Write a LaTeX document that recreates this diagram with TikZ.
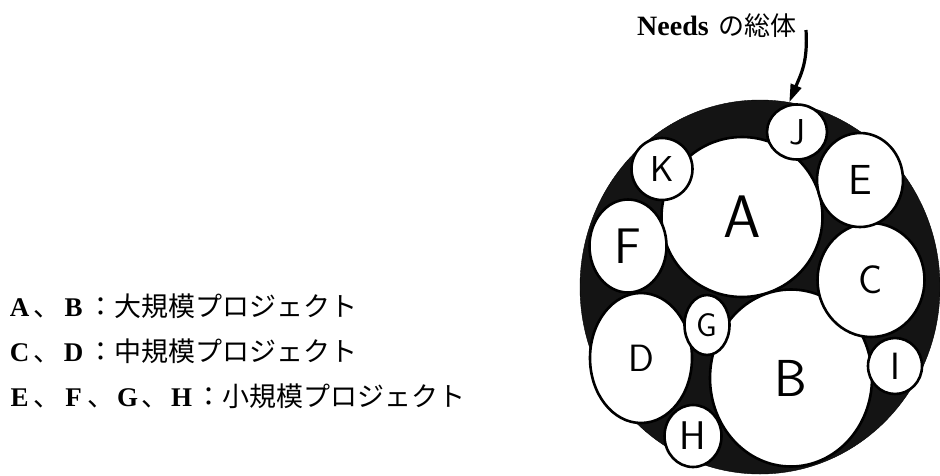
\documentclass[tikz,border=0pt]{standalone}
\usepackage{fontspec}
\setmainfont{Liberation Serif}
\newfontfamily\jp{Noto Sans CJK JP}
\usetikzlibrary{arrows.meta}
\usetikzlibrary{shapes.geometric}
\usetikzlibrary{positioning}
\newcommand{\fwl}[1]{\makebox[1em]{\rmfamily\bfseries #1}}
\tikzset{
	>={Triangle[length=18pt, width=11pt]},
	total/.style={ellipse, draw=black, fill=black!92, inner sep=0pt},
	proj/.style={ellipse, draw=black, line width=2.6pt, fill=white, inner sep=0pt,
		font=\sffamily\fontsize{#1}{#1}\selectfont},
	legend/.style={font=\jp\fontsize{27}{45}\selectfont, align=left, inner sep=0pt},
	caption/.style={font=\bfseries\fontsize{28}{30}\selectfont, inner sep=0pt},
	pointer/.style={black, line width=3.2pt, ->},
}

\begin{document}
\begin{tikzpicture}[x=1pt, y=-1pt]
	\useasboundingbox (0,0) rectangle (940,475);
	
	% Needs as a whole
	\node[total, minimum width=360pt, minimum height=374pt] (total) at (760,287) {};
	
	% large projects
	\node[proj=60, minimum width=161pt, minimum height=160pt] (A) at (742,217) {A};
	\node[proj=52, minimum width=162pt, minimum height=177pt] (B) at (791,378) {B};
	
	% medium projects
	\node[proj=40, minimum width=107pt, minimum height=114pt] (C) at (871,280) {C};
	\node[proj=38, minimum width=102pt, minimum height=130pt] (D) at (641,358) {D};
	
	% small projects
	\node[proj=42, minimum width=86pt, minimum height=94pt] (E) at (860,180) {E};
	\node[proj=50, minimum width=77pt, minimum height=93pt] (F) at (628,246) {F};
	\node[proj=33, minimum width=45pt, minimum height=60pt] (G) at (707,325) {G};
	\node[proj=40, minimum width=57pt, minimum height=62pt] (H) at (693,436) {H};
	\node[proj=38, minimum width=54pt, minimum height=56pt] (I) at (895,366) {I};
	\node[proj=36, minimum width=60pt, minimum height=55pt] (J) at (797,132) {J};
	\node[proj=36, minimum width=61pt, minimum height=62pt] (K) at (662,169) {K};
	
	% caption with arrow
	\node[caption, anchor=base west] (needs) at (637,35) {Needs\hspace{10pt}{\jp\mdseries\fontsize{26}{30}\selectfont の総体}};
	\coordinate (arrowtop) at (806,30);
	\draw[pointer] (arrowtop) .. controls (808,62) and (801,74) .. (total.81);
	
	% legend
	\node[legend, anchor=west] (legend) at (6,351) {%
		\fwl{A}、\fwl{B}：大規模プロジェクト\\
		\fwl{C}、\fwl{D}：中規模プロジェクト\\
		\fwl{E}、\fwl{F}、\fwl{G}、\fwl{H}：小規模プロジェクト};
	
\end{tikzpicture}
\end{document}
